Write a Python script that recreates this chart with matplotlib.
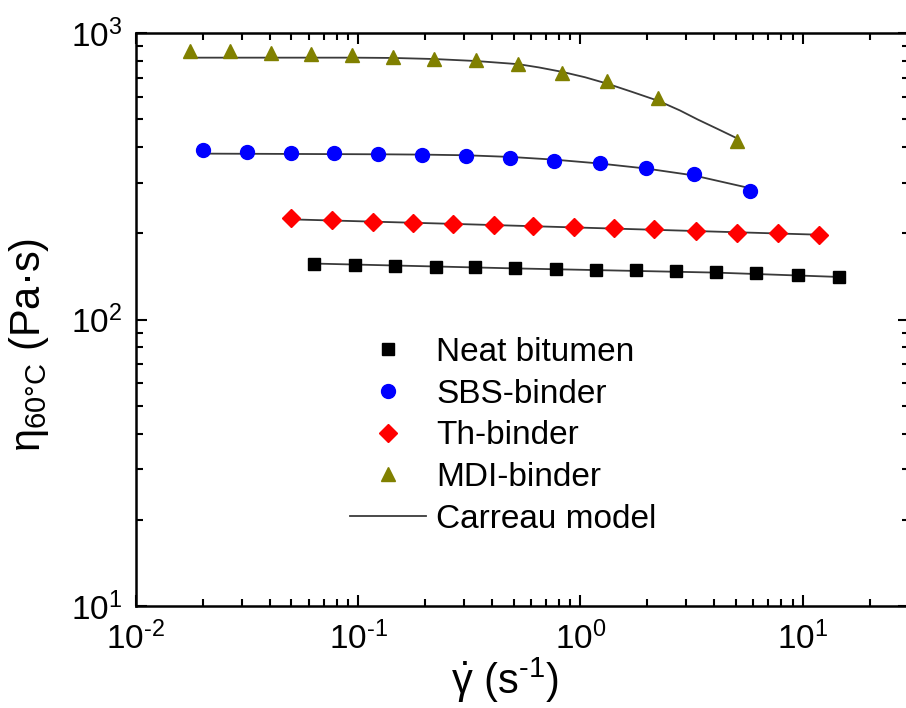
import matplotlib
matplotlib.use('Agg')
import matplotlib.pyplot as plt
from matplotlib.ticker import FuncFormatter
import numpy as np

plt.rcParams['font.family'] = ['Liberation Sans', 'DejaVu Sans']
plt.rcParams['mathtext.fontset'] = 'custom'
plt.rcParams['mathtext.rm'] = 'Liberation Sans'
plt.rcParams['mathtext.it'] = 'Liberation Sans:italic'
plt.rcParams['mathtext.bf'] = 'Liberation Sans:bold'

# measured data (shear rate in 1/s, viscosity in Pa.s)
neat_x = [0.0634, 0.0969, 0.147, 0.225, 0.336, 0.509, 0.780, 1.17, 1.77, 2.68, 4.06, 6.14, 9.48, 14.5]
neat_y = [157, 155, 154, 153, 153, 151, 150, 149, 149, 148, 147, 146, 143, 141]

sbs_x = [0.020, 0.0316, 0.050, 0.078, 0.123, 0.194, 0.306, 0.484, 0.764, 1.22, 1.98, 3.23, 5.77]
sbs_y = [391, 385, 383, 381, 378, 375, 372, 366, 357, 351, 339, 323, 282]

th_x = [0.0499, 0.0763, 0.117, 0.177, 0.268, 0.410, 0.614, 0.94, 1.41, 2.15, 3.30, 5.05, 7.71, 11.8]
th_y = [226, 222, 219, 217, 216, 214, 212, 211, 209, 207, 204, 201, 201, 197]

mdi_x = [0.0175, 0.0265, 0.0405, 0.0613, 0.094, 0.144, 0.220, 0.340, 0.526, 0.830, 1.32, 2.24, 5.09]
mdi_y = [865, 865, 852, 845, 838, 825, 813, 805, 784, 725, 684, 594, 419]

# Carreau model curves
neat_fit_x = [0.0634, 0.509, 4.06, 14.5]
neat_fit_y = [157, 151, 146, 141]
sbs_fit_x = [0.020, 0.123, 0.194, 0.306, 0.484, 0.764, 1.22, 1.98, 3.23, 5.77]
sbs_fit_y = [380, 378, 377, 375, 370, 362, 351, 337, 319, 288]
th_fit_x = [0.0499, 0.268, 1.41, 11.8]
th_fit_y = [224, 216, 208, 198]
mdi_fit_x = [0.0175, 0.094, 0.144, 0.220, 0.340, 0.526, 0.65, 0.830, 1.05, 1.32, 1.7, 2.24, 2.8, 3.37, 4.2, 5.09]
mdi_fit_y = [822, 822, 820, 813, 800, 780, 760, 733, 702, 667, 625, 581, 538, 500, 461, 429]

fig = plt.figure(figsize=(9.06, 7.08), dpi=100)
ax = fig.add_axes([0.150, 0.144, 0.853, 0.809])

line_kw = dict(color='#3a3a3a', lw=1.3, zorder=2)
ax.plot(neat_fit_x, neat_fit_y, label='Carreau model', **line_kw)
ax.plot(sbs_fit_x, sbs_fit_y, **line_kw)
ax.plot(th_fit_x, th_fit_y, **line_kw)
ax.plot(mdi_fit_x, mdi_fit_y, **line_kw)

ax.plot(neat_x, neat_y, 's', color='black', ms=8.5, ls='none', label='Neat bitumen', zorder=3)
ax.plot(sbs_x, sbs_y, 'o', color='#0000ff', ms=10, ls='none', label='SBS-binder', zorder=3)
ax.plot(th_x, th_y, 'D', color='#ff0000', ms=9.5, ls='none', label='Th-binder', zorder=3)
ax.plot(mdi_x, mdi_y, '^', color='#808000', ms=10.5, ls='none', label='MDI-binder', zorder=3)

ax.set_xscale('log')
ax.set_yscale('log')
ax.set_xlim(0.01, 30)
ax.set_ylim(10, 1000)


def pow10(v, pos):
    e = int(round(np.log10(v)))
    if e < 0:
        return r'$\mathregular{10^{\text{-}%d}}$' % (-e)
    return r'$\mathregular{10^{%d}}$' % e


ax.xaxis.set_major_formatter(FuncFormatter(pow10))
ax.yaxis.set_major_formatter(FuncFormatter(pow10))

ax.tick_params(which='both', direction='in', top=True, right=True, width=1.5, labelsize=24)
ax.tick_params(axis='x', pad=11)
ax.tick_params(axis='y', pad=10)
ax.tick_params(which='major', length=8)
ax.tick_params(which='minor', length=5)
for s in ax.spines.values():
    s.set_linewidth(1.8)

ax.set_xlabel(r'$\dot{\mathregular{γ}}$ ($\mathregular{s^{\text{-}1}}$)', fontsize=30, labelpad=0)
ax.xaxis.label.set_x(0.477)
ax.set_ylabel(r'$\mathregular{η_{60°C}}$ (Pa·s)', fontsize=30, labelpad=14)
ax.yaxis.label.set_y(0.456)

h, l = ax.get_legend_handles_labels()
order = [1, 2, 3, 4, 0]
ax.legend([h[i] for i in order], [l[i] for i in order], loc='upper left',
          bbox_to_anchor=(0.386, 0.524), bbox_transform=fig.transFigure,
          frameon=False, fontsize=24, handlelength=2.3, handletextpad=0.3,
          labelspacing=0.32, borderaxespad=0, borderpad=0)

fig.savefig('out.png', dpi=100)
